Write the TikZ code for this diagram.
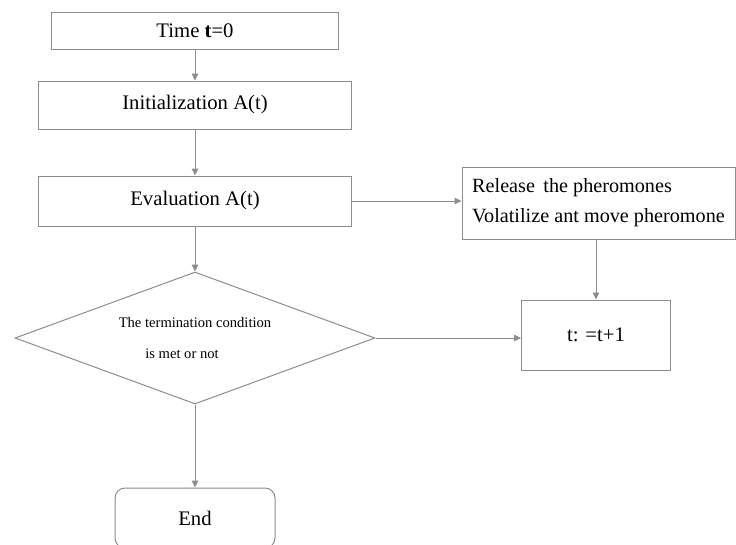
\documentclass[tikz,border=0pt]{standalone}
\usepackage{fontspec}
\setmainfont{Liberation Serif}
\usepackage{tikz}
\usetikzlibrary{positioning, shapes.geometric, arrows.meta}
\definecolor{linegray}{HTML}{8C8C8C}
\tikzset{
    stepbox/.style={rectangle, draw=linegray, line width=1pt, inner sep=0pt, font=\fontsize{20.7}{24}\selectfont},
    decide/.style={diamond, draw=linegray, line width=1pt, inner sep=0pt, aspect=2.73, minimum width=360pt, minimum height=132pt, align=center, font=\fontsize{14.6}{31}\selectfont},
    flow/.style={draw=linegray, line width=1pt, -{Triangle[length=7pt,width=6.5pt]}},
    node distance=1.5
}

\begin{document}
\begin{tikzpicture}[x=1pt, y=1pt, on grid, auto]
  \useasboundingbox (0,0) rectangle (736,-544);
  \node[stepbox, minimum width=287pt, minimum height=37pt] (time) at (195,-30.5) {Time \textbf{t}=0};
  \node[stepbox, minimum width=313pt, minimum height=48pt, below = 74.5pt of time] (init) {Initialization A(t)};
  \node[stepbox, minimum width=313pt, minimum height=50pt, below = 96pt of init] (eval) {Evaluation A(t)};
  \node[stepbox, minimum width=273pt, minimum height=72pt, align=left, font=\fontsize{20.2}{30}\selectfont, right = 403.5pt of eval, yshift=-2pt] (rel) {Release\, the pheromones\\Volatilize ant move pheromone};
  \node[decide, below = 137pt of eval] (dec) {The termination condition\\is met or not\hspace*{26pt}};
  \node[stepbox, minimum width=149pt, minimum height=70pt, below = 132pt of rel, xshift=-2.5pt] (tinc) {t: =t+1};
  \node[stepbox, rounded corners=10pt, minimum width=160pt, minimum height=60pt, below = 180pt of dec] (end) {End};

  \draw
  (time) edge[flow] (init)
  (init) edge[flow] (eval)
  (eval) edge[flow] (eval -| rel.west)
  (eval) edge[flow] (dec)
  (tinc |- rel.south) edge[flow] (tinc)
  (dec.east) edge[flow] (dec.east -| tinc.west)
  (dec) edge[flow] (end)
  ;
\end{tikzpicture}
\end{document}
